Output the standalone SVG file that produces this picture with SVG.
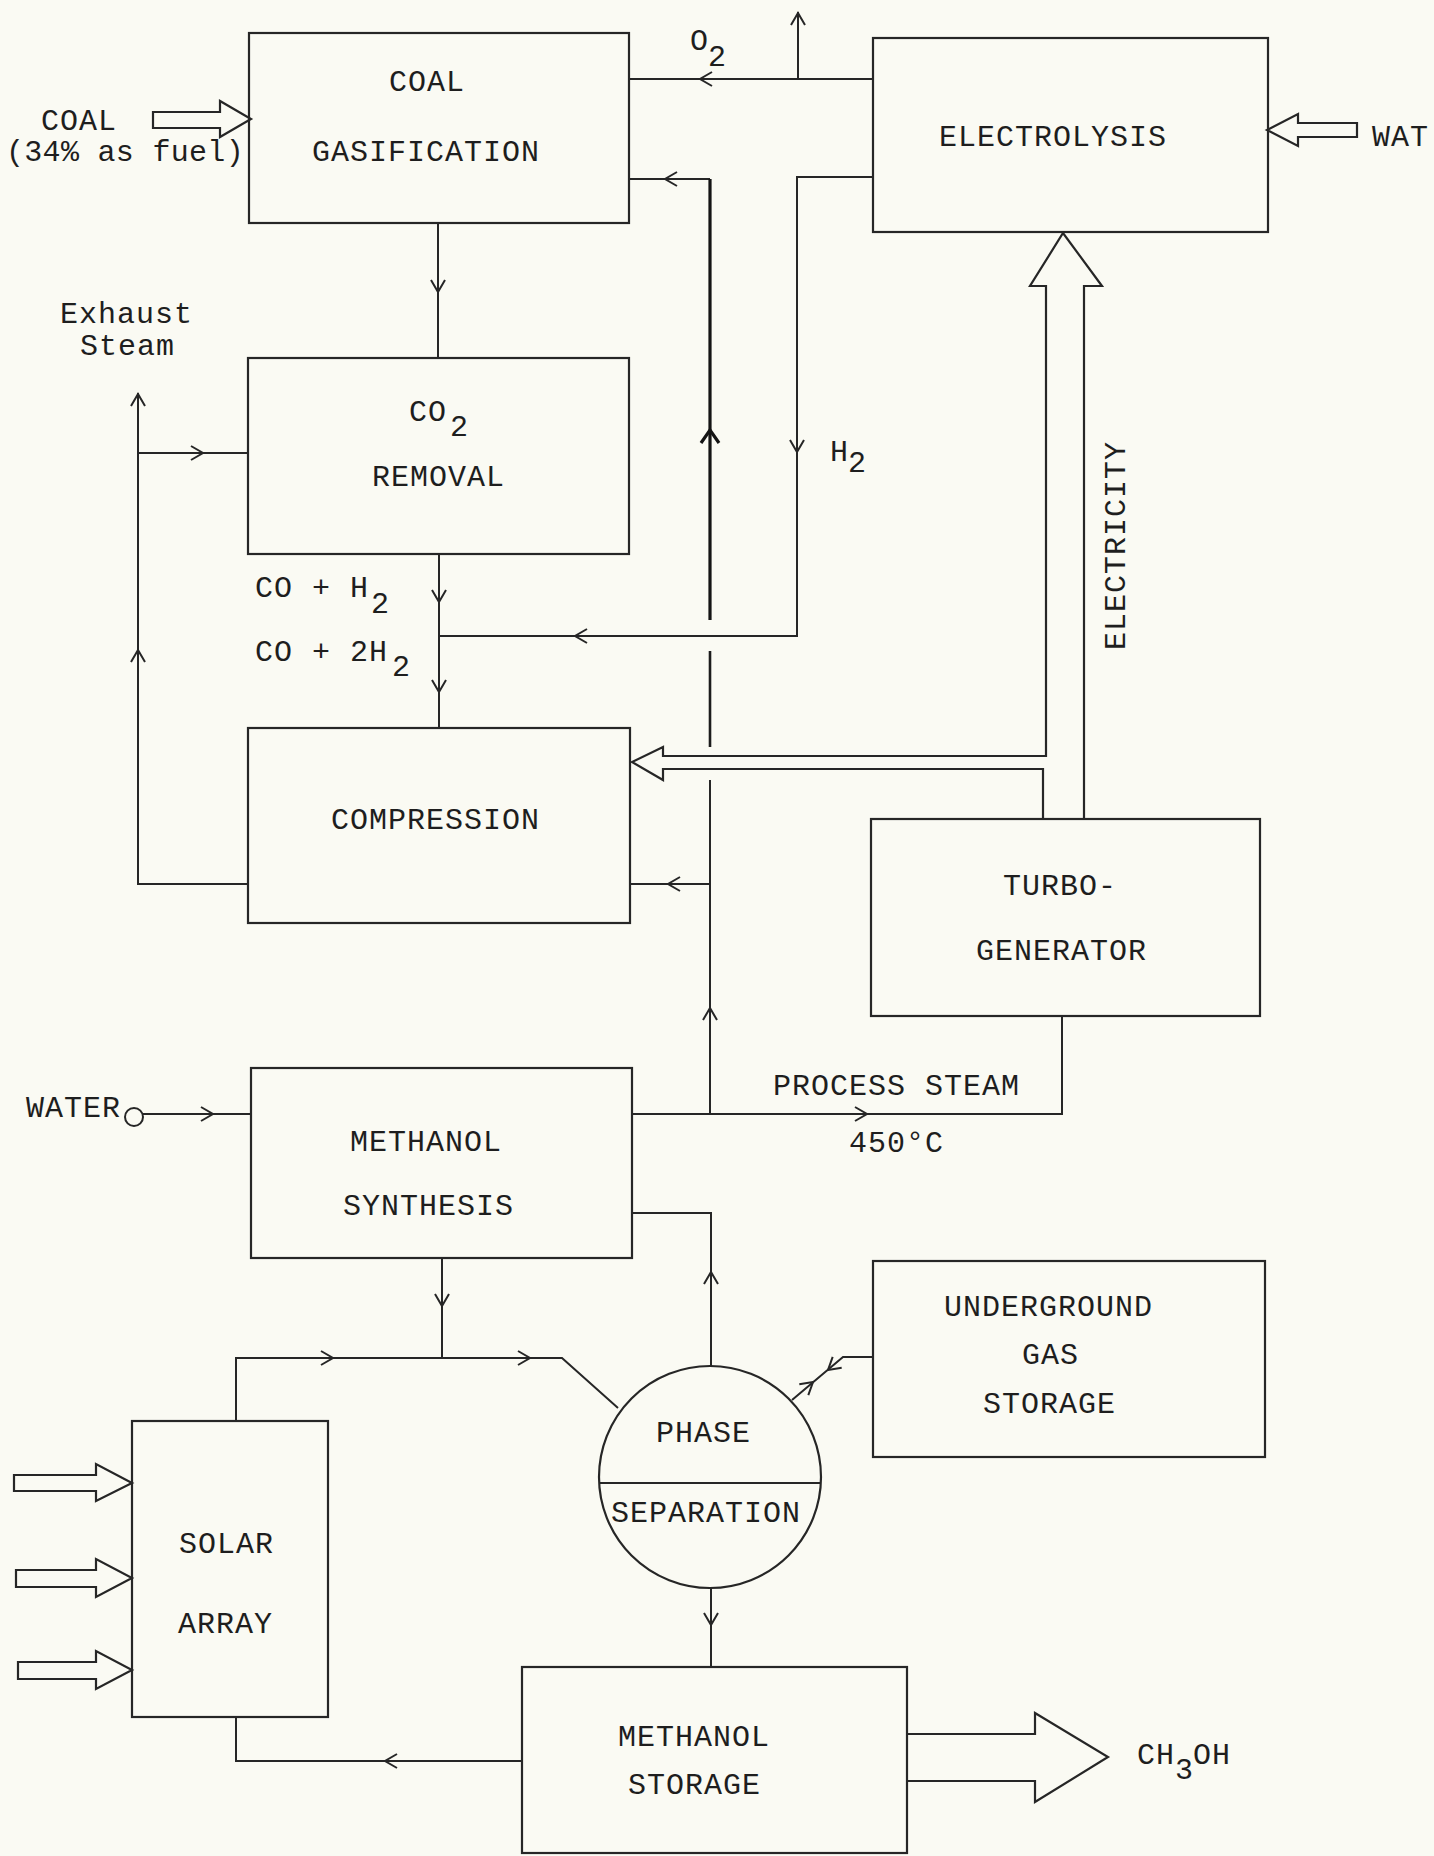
<svg xmlns="http://www.w3.org/2000/svg" xmlns:xlink="http://www.w3.org/1999/xlink" width="1434" height="1856" viewBox="0 0 1434 1856">
<defs>
<style>
.box{fill:none;stroke:#262626;stroke-width:2.2}
.ln{fill:none;stroke:#262626;stroke-width:2}
.bold{fill:none;stroke:#141414;stroke-width:3.2}
.med{fill:none;stroke:#1c1c1c;stroke-width:2.6}
.hol{fill:none;stroke:#262626;stroke-width:2.2;stroke-linejoin:miter}
.t{font-family:"Liberation Mono","DejaVu Sans Mono",monospace;font-size:30px;letter-spacing:1px;fill:#1e1e1e}
</style>
<path id="ah" d="M-12,-7 L0,0 L-12,7" fill="none" stroke="#262626" stroke-width="2"/>
<path id="ahb" d="M-13,-9 L0,0 L-13,9" fill="none" stroke="#141414" stroke-width="3.2"/>
</defs>
<rect x="0" y="0" width="1434" height="1856" fill="#fafaf3"/>

<g id="connectors">
  <!-- gasification -> CO2 removal -->
  <path class="ln" d="M438,223 V358"/>
  <use xlink:href="#ah" transform="translate(438,292) rotate(90)"/>
  <!-- CO2 removal -> compression -->
  <path class="ln" d="M439,554 V728"/>
  <use xlink:href="#ah" transform="translate(439,602) rotate(90)"/>
  <use xlink:href="#ah" transform="translate(439,692) rotate(90)"/>
  <!-- H2 line -->
  <path class="ln" d="M873,177 H797 V636 H439"/>
  <use xlink:href="#ah" transform="translate(797,452) rotate(90)"/>
  <use xlink:href="#ah" transform="translate(575,636) rotate(180)"/>
  <!-- O2 line -->
  <path class="ln" d="M873,79 H629"/>
  <use xlink:href="#ah" transform="translate(700,79) rotate(180)"/>
  <path class="ln" d="M798,79 V12"/>
  <use xlink:href="#ah" transform="translate(798,13) rotate(-90)"/>
  <!-- recycle vertical to gasification -->
  <path class="ln" d="M629,179 H710"/>
  <path class="bold" d="M710,179 V620"/>
  <path class="med" d="M710,651 V747"/>
  <path class="ln" d="M710,780 V1114"/>
  <use xlink:href="#ah" transform="translate(665,179) rotate(180)"/>
  <use xlink:href="#ahb" transform="translate(710,430) rotate(-90)"/>
  <use xlink:href="#ah" transform="translate(710,1008) rotate(-90)"/>
  <path class="ln" d="M710,884 H630"/>
  <use xlink:href="#ah" transform="translate(668,884) rotate(180)"/>
  <!-- process steam -->
  <path class="ln" d="M631,1114 H1062 V1016"/>
  <use xlink:href="#ah" transform="translate(867,1114)"/>
  <!-- methanol synthesis lower to phase sep -->
  <path class="ln" d="M631,1213 H711 V1366"/>
  <use xlink:href="#ah" transform="translate(711,1272) rotate(-90)"/>
  <!-- methanol synthesis bottom -->
  <path class="ln" d="M442,1258 V1358"/>
  <use xlink:href="#ah" transform="translate(442,1306) rotate(90)"/>
  <path class="ln" d="M236,1421 V1358 H562 L618,1408"/>
  <use xlink:href="#ah" transform="translate(333,1358)"/>
  <use xlink:href="#ah" transform="translate(530,1358)"/>
  <!-- phase sep -> methanol storage -->
  <path class="ln" d="M711,1588 V1667"/>
  <use xlink:href="#ah" transform="translate(711,1625) rotate(90)"/>
  <!-- methanol storage -> solar -->
  <path class="ln" d="M522,1761 H236 V1717"/>
  <use xlink:href="#ah" transform="translate(385,1761) rotate(180)"/>
  <!-- UGS <-> phase separation -->
  <path class="ln" d="M873,1357 H843 L792,1400"/>
  <use xlink:href="#ah" transform="translate(828,1370) rotate(140)"/>
  <use xlink:href="#ah" transform="translate(813,1382) rotate(-40)"/>
  <!-- exhaust steam -->
  <path class="ln" d="M248,884 H138 V393"/>
  <use xlink:href="#ah" transform="translate(138,394) rotate(-90)"/>
  <use xlink:href="#ah" transform="translate(138,650) rotate(-90)"/>
  <path class="ln" d="M138,453 H248"/>
  <use xlink:href="#ah" transform="translate(203,453)"/>
  <!-- water to methanol synthesis -->
  <circle class="ln" cx="134" cy="1117" r="9"/>
  <path class="ln" d="M143,1114 H251"/>
  <use xlink:href="#ah" transform="translate(213,1114)"/>
  <!-- hollow arrows -->
  <polygon class="hol" points="153,112 220,112 220,101 251,119 220,137 220,128 153,128"/>
  <polygon class="hol" points="1357,123 1298,123 1298,114 1267,130 1298,146 1298,137 1357,137"/>
  <polyline class="hol" points="1043,819 1043,769 663,769 663,780 632,762 663,747 663,756 1046,756 1046,286 1030,286 1063,233 1102,286 1084,286 1084,819"/>
  <polygon class="hol" points="14,1475 96,1475 96,1464 132,1483 96,1501 96,1491 14,1491"/>
  <polygon class="hol" points="16,1570 96,1570 96,1559 132,1578 96,1597 96,1587 16,1587"/>
  <polygon class="hol" points="18,1662 96,1662 96,1651 132,1670 96,1689 96,1679 18,1679"/>
  <polyline class="hol" points="907,1734 1035,1734 1035,1713 1108,1757 1035,1802 1035,1781 907,1781"/>
</g>

<g id="coal_gasification">
  <rect class="box" x="249" y="33" width="380" height="190"/>
  <text class="t" x="389" y="91">COAL</text>
  <text class="t" x="312" y="161">GASIFICATION</text>
</g>
<g id="coal_input">
  <text class="t" x="41" y="130">COAL</text>
  <text class="t" x="6" y="161" style="letter-spacing:0.3px">(34% as fuel)</text>
</g>
<g id="electrolysis">
  <rect class="box" x="873" y="38" width="395" height="194"/>
  <text class="t" x="939" y="146">ELECTROLYSIS</text>
</g>
<g id="water_input_top">
  <text class="t" x="1372" y="146">WAT</text>
</g>
<g id="o2_label">
  <text class="t" x="690" y="50">O<tspan x="708" y="66">2</tspan></text>
</g>
<g id="co2_removal">
  <rect class="box" x="248" y="358" width="381" height="196"/>
  <text class="t" x="409" y="421">CO<tspan x="450" y="436">2</tspan></text>
  <text class="t" x="372" y="486">REMOVAL</text>
</g>
<g id="exhaust_label">
  <text class="t" x="60" y="323">Exhaust</text>
  <text class="t" x="80" y="355">Steam</text>
</g>
<g id="h2_label">
  <text class="t" x="830" y="461">H<tspan x="848" y="472">2</tspan></text>
</g>
<g id="gas_labels">
  <text class="t" x="255" y="597">CO + H<tspan x="371" y="613">2</tspan></text>
  <text class="t" x="255" y="661">CO + 2H<tspan x="392" y="676">2</tspan></text>
</g>
<g id="compression">
  <rect class="box" x="248" y="728" width="382" height="195"/>
  <text class="t" x="331" y="829">COMPRESSION</text>
</g>
<g id="electricity_label">
  <text class="t" transform="translate(1125,650) rotate(-90)" x="0" y="0">ELECTRICITY</text>
</g>
<g id="turbo_generator">
  <rect class="box" x="871" y="819" width="389" height="197"/>
  <text class="t" x="1003" y="895">TURBO-</text>
  <text class="t" x="976" y="960">GENERATOR</text>
</g>
<g id="process_steam_label">
  <text class="t" x="773" y="1095">PROCESS STEAM</text>
  <text class="t" x="849" y="1152">450°C</text>
</g>
<g id="water_input">
  <text class="t" x="26" y="1117">WATER</text>
</g>
<g id="methanol_synthesis">
  <rect class="box" x="251" y="1068" width="381" height="190"/>
  <text class="t" x="350" y="1151">METHANOL</text>
  <text class="t" x="343" y="1215">SYNTHESIS</text>
</g>
<g id="phase_separation">
  <circle class="box" cx="710" cy="1477" r="111"/>
  <path class="box" d="M599.2,1483 H820.8"/>
  <text class="t" x="656" y="1442">PHASE</text>
  <text class="t" x="611" y="1522">SEPARATION</text>
</g>
<g id="underground_gas_storage">
  <rect class="box" x="873" y="1261" width="392" height="196"/>
  <text class="t" x="944" y="1316">UNDERGROUND</text>
  <text class="t" x="1022" y="1364">GAS</text>
  <text class="t" x="983" y="1413">STORAGE</text>
</g>
<g id="solar_array">
  <rect class="box" x="132" y="1421" width="196" height="296"/>
  <text class="t" x="179" y="1553">SOLAR</text>
  <text class="t" x="178" y="1633">ARRAY</text>
</g>
<g id="methanol_storage">
  <rect class="box" x="522" y="1667" width="385" height="186"/>
  <text class="t" x="618" y="1746">METHANOL</text>
  <text class="t" x="628" y="1794">STORAGE</text>
</g>
<g id="ch3oh_output">
  <text class="t" x="1137" y="1764">CH<tspan x="1175" y="1779">3</tspan><tspan x="1193" y="1764">OH</tspan></text>
</g>
</svg>
